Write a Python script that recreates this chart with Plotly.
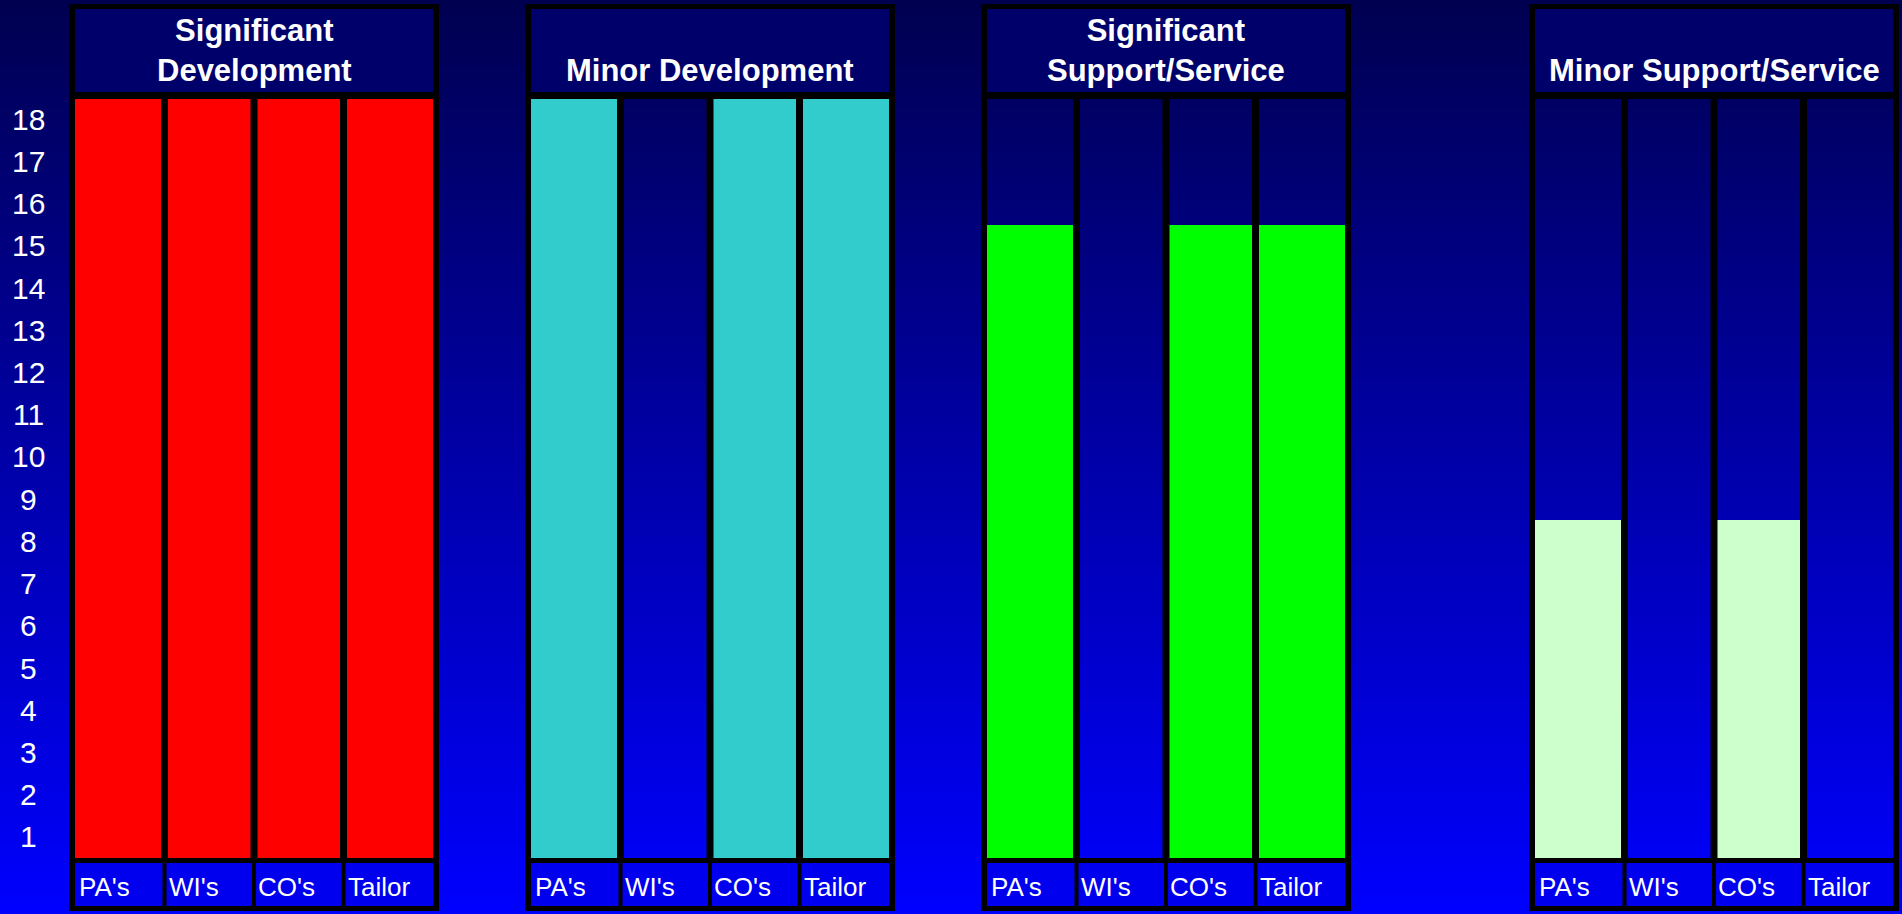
import plotly.graph_objects as go

# ---------------- data ----------------
categories = ["PA's", "WI's", "CO's", "Tailor"]
group_titles = ["Significant<br>Development", "Minor Development",
                "Significant<br>Support/Service", "Minor Support/Service"]
sig_dev = [18, 18, 18, 18]
minor_dev = [18, 0, 18, 18]
sig_support = [15, 0, 15, 15]
minor_support = [8, 0, 8, 0]
y_tick_labels = [str(k) for k in range(1, 19)]

group_values = [sig_dev, minor_dev, sig_support, minor_support]
group_colors = ["#FF0000", "#33CCCC", "#00FF00", "#CCFFCC"]

# ---------------- layout helpers (pixel -> paper) ----------------
W, H = 1902, 914
def px(x):
    return x / W
def py(y):
    return 1 - y / H

inner_left = [75, 531, 987, 1535]
inner_width = 358
PLOT_TOP, PLOT_BOTTOM = 98, 858
FONT = "Liberation Sans, Arial, sans-serif"

fig = go.Figure()
shapes = []
annotations = []

# gradient background (strips)
n_strips = 120
for i in range(n_strips):
    t = (i + 0.5) / n_strips
    b = int(round(80 + (255 - 80) * t))
    shapes.append(dict(type="rect", xref="paper", yref="paper",
                       x0=0, x1=1, y0=py(H * (i + 1) / n_strips) - 0.0005,
                       y1=py(H * i / n_strips) + 0.0005,
                       fillcolor=f"rgb(0,0,{b})", line=dict(width=0), layer="below"))

for g in range(4):
    L = inner_left[g]
    R = L + inner_width
    ax = "" if g == 0 else str(g + 1)
    fig.add_trace(go.Bar(
        x=categories, y=group_values[g], width=1.0,
        marker=dict(color=group_colors[g], line=dict(width=0)),
        xaxis="x" + ax, yaxis="y" + ax, showlegend=False, hoverinfo="x+y"))
    fig.layout["xaxis" + ax] = dict(domain=[px(L), px(R)], range=[-0.5, 3.5],
                                    showticklabels=False, showgrid=False,
                                    zeroline=False, showline=False, anchor="y" + ax,
                                    fixedrange=True)
    fig.layout["yaxis" + ax] = dict(domain=[py(PLOT_BOTTOM), py(PLOT_TOP)], range=[0, 18],
                                    showticklabels=False, showgrid=False,
                                    zeroline=False, showline=False, anchor="x" + ax,
                                    fixedrange=True)

    # title box fill
    shapes.append(dict(type="rect", xref="paper", yref="paper",
                       x0=px(L), x1=px(R), y0=py(92), y1=py(9),
                       fillcolor="#00006A", line=dict(width=0), layer="below"))
    # label cells fill
    shapes.append(dict(type="rect", xref="paper", yref="paper",
                       x0=px(L - 1), x1=px(R + 1), y0=py(906), y1=py(863),
                       fillcolor="#0000EE", line=dict(width=0), layer="below"))

    def hline(y, w, x0=L - 6, x1=R + 6):
        shapes.append(dict(type="line", xref="paper", yref="paper",
                           x0=px(x0), x1=px(x1), y0=py(y), y1=py(y),
                           line=dict(color="black", width=w), layer="above"))

    def vline(x, w, y0, y1):
        shapes.append(dict(type="line", xref="paper", yref="paper",
                           x0=px(x), x1=px(x), y0=py(y0), y1=py(y1),
                           line=dict(color="black", width=w), layer="above"))

    # frame
    vline(L - 3, 6, 4, 911)
    vline(R + 3, 6, 4, 911)
    hline(6.5, 5)
    hline(95.5, 7)
    hline(860.5, 5)
    hline(908.5, 5)
    # cell separators
    pitch = inner_width / 4
    for k in range(1, 4):
        xc = L + k * pitch
        vline(xc, 7, 95, 861)
        vline(xc, 4, 861, 908)

    # group title
    annotations.append(dict(xref="paper", yref="paper", x=px((L + R) / 2), y=py(90),
                            xanchor="center", yanchor="bottom", showarrow=False,
                            text="<b>" + group_titles[g] + "</b>",
                            font=dict(family=FONT, size=31, color="white")))
    # category labels
    for k, c in enumerate(categories):
        annotations.append(dict(xref="x" + ax, yref="paper", x=k - 0.5, xshift=2,
                                y=py(887), xanchor="left", yanchor="middle",
                                showarrow=False, text=c,
                                font=dict(family=FONT, size=26, color="white")))

# y tick labels (band-centred)
for k, t in enumerate(y_tick_labels):
    annotations.append(dict(xref="paper", yref="y", x=px(28), y=k + 0.5,
                            xanchor="center", yanchor="middle", showarrow=False,
                            text=t, font=dict(family=FONT, size=30, color="white")))

fig.update_layout(width=W, height=H, margin=dict(l=0, r=0, t=0, b=0),
                  paper_bgcolor="#0000A0", plot_bgcolor="rgba(0,0,0,0)",
                  shapes=shapes, annotations=annotations, bargap=0)

fig.write_html("out.html")
